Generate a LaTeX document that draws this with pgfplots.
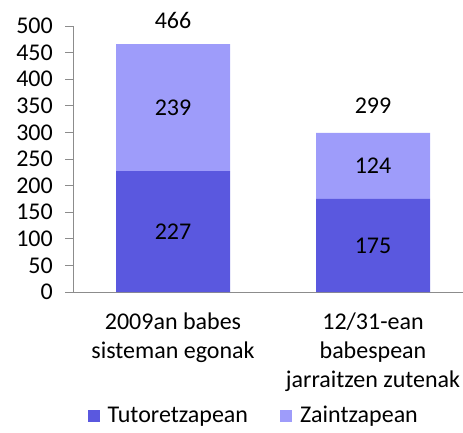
\documentclass[border=0pt]{standalone}
\usepackage{pgfplots}
\pgfplotsset{compat=1.18}
\usepackage{fontspec}
\setmainfont{Carlito}
\definecolor{darkbar}{HTML}{5A58DF}
\definecolor{lightbar}{HTML}{9E9CFA}
\definecolor{axisgray}{HTML}{8C8C8C}
\begin{document}
\fontsize{24}{29}\selectfont
\begin{tikzpicture}
\useasboundingbox (0,0) rectangle (463pt,-432pt);
\clip (0,0) rectangle (463pt,-432pt);
\pgfplotsset{
  mybase/.style={
    scale only axis, width=390pt, height=266pt,
    at={(73pt,-292pt)}, anchor=south west,
    xmin=-0.5, xmax=1.45, ymin=0, ymax=500,
    clip=false,
  }
}
\begin{axis}[
  mybase,
  ybar stacked, bar width=114pt,
  axis x line*=bottom, axis y line*=left,
  axis line style={axisgray, line width=1pt},
  ytick={0,50,...,500},
  ytick style={axisgray, line width=1pt},
  major tick length=8pt, tick align=outside,
  xtick={0,1}, xtick style={draw=none},
  xticklabels={{2009an babes\\sisteman egonak},{12/31-ean\\babespean\\jarraitzen zutenak}},
  x tick label style={align=center, font=\fontsize{24}{29}\selectfont, yshift=-5pt},
  y tick label style={font=\fontsize{24}{25}\selectfont, xshift=-4pt},
  /pgf/number format/assume math mode=true,
  legend style={at={(rel axis cs:0.4635,-0.468)}, anchor=center, draw=none,
    font=\fontsize{24}{25}\selectfont, column sep=0pt, inner sep=0pt},
  legend columns=2,
  legend image code/.code={\fill[#1] (0pt,-6pt) rectangle (12pt,6pt);},
  /tikz/every odd column/.append style={column sep=6pt},
  /tikz/every even column/.append style={column sep=30pt},
]
\addplot[fill=darkbar, draw=none] coordinates {(0,227) (1,175)};
\addplot[fill=lightbar, draw=none] coordinates {(0,239) (1,124)};
\legend{Tutoretzapean, Zaintzapean}
\end{axis}
\begin{axis}[
  mybase, hide axis,
  nodes near coords, point meta=explicit symbolic,
  every node near coord/.append style={anchor=center, font=\fontsize{24}{25}\selectfont, text=black},
]
\addplot[draw=none, mark=none] coordinates {(0,113.5) [227] (1,87.5) [175]};
\addplot[draw=none, mark=none] coordinates {(0,346.5) [239] (1,237) [124]};
\addplot[draw=none, mark=none] coordinates {(0,511) [466] (1,351) [299]};
\end{axis}
\end{tikzpicture}
\end{document}
